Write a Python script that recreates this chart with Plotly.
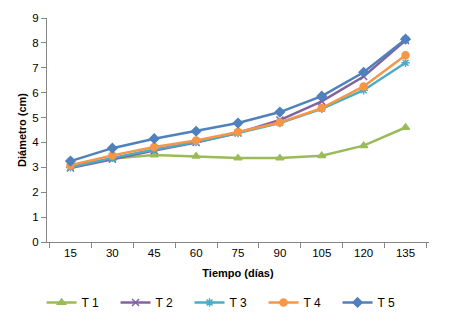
import plotly.graph_objects as go

dias = ["15", "30", "45", "60", "75", "90", "105", "120", "135"]
t1 = [3.05, 3.35, 3.50, 3.45, 3.37, 3.37, 3.47, 3.87, 4.60]
t2 = [2.97, 3.33, 3.68, 4.00, 4.38, 4.90, 5.65, 6.65, 8.10]
t3 = [3.00, 3.38, 3.72, 4.02, 4.38, 4.78, 5.35, 6.10, 7.20]
t4 = [3.08, 3.48, 3.82, 4.08, 4.42, 4.80, 5.38, 6.25, 7.50]
t5 = [3.25, 3.77, 4.15, 4.45, 4.78, 5.22, 5.86, 6.82, 8.15]

series = [
    ("T 1", t1, "#9BBB59", "triangle-up", 7),
    ("T 2", t2, "#8064A2", "x-thin-open", 7),
    ("T 3", t3, "#4BACC6", "asterisk-open", 7),
    ("T 4", t4, "#F79646", "circle", 7),
    ("T 5", t5, "#4F81BD", "diamond", 7),
]

fig = go.Figure()
for name, vals, col, sym, sz in series:
    fig.add_trace(go.Scatter(
        x=dias, y=vals, name=name, mode="lines+markers",
        line=dict(color=col, width=2.5),
        marker=dict(symbol=sym, size=sz, color=col, line=dict(color=col, width=1.5)),
    ))

fig.update_layout(
    width=452, height=332,
    margin=dict(l=39, r=31, t=10, b=98, autoexpand=False),
    paper_bgcolor="white", plot_bgcolor="white",
    font=dict(family="Liberation Sans, Arial, sans-serif", size=12, color="#000000"),
    showlegend=True,
    legend=dict(orientation="h", x=0.47, xanchor="center", y=-0.27, yanchor="middle",
                font=dict(size=12), entrywidth=29, entrywidthmode="pixels",
                itemwidth=30, tracegroupgap=0),
)
fig.update_xaxes(
    type="category", showgrid=False, showline=True, linecolor="#868686", linewidth=1,
    ticks="outside", tickson="boundaries", ticklen=5, tickcolor="#868686",
    title=dict(text="<b>Tiempo (días)</b>", font=dict(size=11), standoff=11),
    tickfont=dict(size=11.5),
)
fig.update_yaxes(
    range=[0, 9], dtick=1, showgrid=False, showline=True, linecolor="#868686", linewidth=1,
    ticks="outside", ticklen=5, tickcolor="#868686", zeroline=False,
    title=dict(text="<b>Diámetro (cm)</b>", font=dict(size=11), standoff=3),
    tickfont=dict(size=11.5),
)

fig.write_html("out.html")
